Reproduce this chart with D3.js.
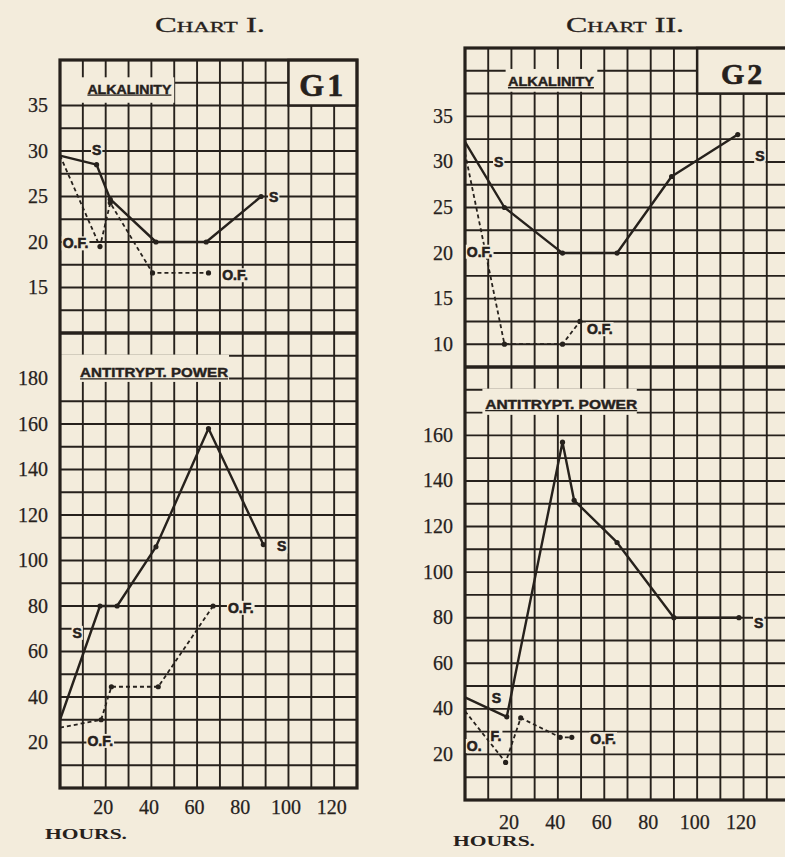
<!DOCTYPE html>
<html><head><meta charset="utf-8">
<script src="https://cdn.jsdelivr.net/npm/d3@7"></script>
<style>
html,body{margin:0;padding:0;background:#f3ecdc;}
svg{display:block;}
</style></head>
<body>
<script>
// ---------- DATA ----------
const hourTicks = [20, 40, 60, 80, 100, 120];

// Chart I (G1)
const c1AlkTicks = [15, 20, 25, 30, 35];
const c1AtTicks = [20, 40, 60, 80, 100, 120, 140, 160, 180];
const c1AlkS_h = [0, 16, 22, 42, 64, 88];
const c1AlkS_v = [29.5, 28.5, 24.7, 20, 20, 25];
const c1AlkOF_h = [0, 17.5, 22, 40.5, 65];
const c1AlkOF_v = [29.5, 19.5, 24.3, 16.6, 16.6];
const c1AtS_h = [0, 17.5, 25, 42, 65, 89];
const c1AtS_v = [30, 80, 80, 106, 158, 107];
const c1AtOF_h = [0, 18, 22.5, 43, 67];
const c1AtOF_v = [26.5, 30, 44.5, 44.5, 80];

// Chart II (G2)
const c2AlkTicks = [10, 15, 20, 25, 30, 35];
const c2AtTicks = [20, 40, 60, 80, 100, 120, 140, 160];
const c2AlkS_h = [0, 17, 42, 65.5, 89, 117.5];
const c2AlkS_v = [32.2, 25, 20, 20, 28.4, 33];
const c2AlkOF_h = [0, 17, 42, 49.5];
const c2AlkOF_v = [31, 10, 10, 12.5];
const c2AtS_h = [0, 18, 42, 47, 65.5, 90, 118];
const c2AtS_v = [45, 36.5, 157, 131.5, 113, 80, 80];
const c2AtOF_h = [0, 17.5, 24, 41, 46];
const c2AtOF_v = [39, 16.5, 36, 27.5, 27.5];

// ---------- DRAW ----------
const W = 785, H = 857;
const INK = "#26211c", BG = "#f3ecdc";
const svg = d3.select("body").append("svg").attr("width", W).attr("height", H);

const zip = (h, v) => h.map((d, i) => [d, v[i]]);

const charts = [
  {
    title: "Chart I.", titleX: 210, titleLen: 110, box: "G1", boxFont: 32,
    xr: [60, 357], xd: [0, 130],
    top: { d: [10, 40], r: [333, 60], step: 2.5, ticks: c1AlkTicks,
      S: zip(c1AlkS_h, c1AlkS_v), OF: zip(c1AlkOF_h, c1AlkOF_v),
      name: "ALKALINITY", nameAt: [12, 36.3], nameLen: 84, bgFrom: [0.3, 38.1], bgTo: [50, 35.3],
      labels: [["S", 14, 29.6], ["S", 91.5, 24.4], ["O.F.", 1.2, 19.3], ["O.F.", 71, 15.8]] },
    bot: { d: [0, 200], r: [788, 333], step: 10, ticks: c1AtTicks,
      S: zip(c1AtS_h, c1AtS_v), OF: zip(c1AtOF_h, c1AtOF_v),
      name: "ANTITRYPT. POWER", nameAt: [8.8, 180.5], nameLen: 148, bgFrom: [0.3, 190.5], bgTo: [74, 178.5],
      labels: [["S", 5.5, 66], ["S", 95, 104], ["O.F.", 73.5, 77], ["O.F.", 12, 18.5]] },
    xLabelY: 814, hoursX: 45, hoursY: 839
  },
  {
    title: "Chart II.", titleX: 625, titleLen: 118, box: "G2", boxFont: 30,
    xr: [465, 790], xd: [0, 140],
    top: { d: [7.5, 42.5], r: [367, 48], step: 2.5, ticks: c2AlkTicks,
      S: zip(c2AlkS_h, c2AlkS_v), OF: zip(c2AlkOF_h, c2AlkOF_v),
      name: "ALKALINITY", nameAt: [18.5, 38.3], nameLen: 86, bgFrom: [17.5, 40.2], bgTo: [57, 37.7],
      labels: [["S", 12.5, 29.4], ["S", 125, 30.1], ["O.F.", 0.8, 19.6], ["O.F.", 52.5, 11.1]] },
    bot: { d: [0, 190], r: [800, 367], step: 10, ticks: c2AtTicks,
      S: zip(c2AtS_h, c2AtS_v), OF: zip(c2AtOF_h, c2AtOF_v),
      name: "ANTITRYPT. POWER", nameAt: [8.7, 171.5], nameLen: 152, bgFrom: [7.5, 180.5], bgTo: [74, 169],
      labels: [["S", 11.5, 42.5], ["S", 124.5, 75.5], ["O.F.", 54, 24.5], ["O.", 0.8, 21.5], ["F.", 11, 26]] },
    xLabelY: 829, hoursX: 453, hoursY: 846
  }
];

charts.forEach(c => {
  const g = svg.append("g");
  const x = d3.scaleLinear().domain(c.xd).range(c.xr);
  const x0 = c.xr[0], x1 = c.xr[1];

  // title
  g.append("text").attr("x", c.titleX).attr("y", 32).attr("text-anchor", "middle")
    .attr("font-family", "'Liberation Serif', serif").attr("font-size", 20)
    .attr("font-variant", "small-caps").attr("fill", INK)
    .attr("stroke", INK).attr("stroke-width", 0.3)
    .attr("textLength", c.titleLen).attr("lengthAdjust", "spacingAndGlyphs")
    .text(c.title);

  [c.top, c.bot].forEach(p => {
    const y = d3.scaleLinear().domain(p.d).range(p.r);
    const hs = d3.range(p.d[0], p.d[1] + 0.001, p.step);
    g.append("g").selectAll("line").data(hs).join("line")
      .attr("x1", x0).attr("x2", x1).attr("y1", d => y(d)).attr("y2", d => y(d))
      .attr("stroke", INK).attr("stroke-width", 1.9);
    const vs = d3.range(c.xd[0], c.xd[1] + 0.001, 10);
    g.append("g").selectAll("line").data(vs).join("line")
      .attr("x1", d => x(d)).attr("x2", d => x(d)).attr("y1", p.r[1]).attr("y2", p.r[0])
      .attr("stroke", INK).attr("stroke-width", 1.9);
    p.y = y;
  });

  // title box G
  const yt = c.top.y;
  const bx0 = x(100), by1 = yt(c.top.d[1] - 5);
  g.append("rect").attr("x", bx0).attr("y", c.top.r[1]).attr("width", x1 - bx0).attr("height", by1 - c.top.r[1])
    .attr("fill", BG).attr("stroke", INK).attr("stroke-width", 2.5);
  g.append("text").attr("x", (bx0 + Math.min(x1, 785)) / 2 + (c.box === "G2" ? 2 : 0)).attr("y", by1 - 10)
    .attr("text-anchor", "middle").attr("font-family", "'Liberation Serif', serif")
    .attr("font-weight", "bold").attr("font-size", c.boxFont).attr("fill", INK)
    .attr("stroke", INK).attr("stroke-width", 0.6)
    .attr("letter-spacing", 3).text(c.box);

  // panel names
  [c.top, c.bot].forEach(p => {
    const y = p.y;
    g.append("rect").attr("x", x(p.bgFrom[0])).attr("y", y(p.bgFrom[1]))
      .attr("width", x(p.bgTo[0]) - x(p.bgFrom[0])).attr("height", y(p.bgTo[1]) - y(p.bgFrom[1]))
      .attr("fill", BG);
    g.append("text").attr("x", x(p.nameAt[0])).attr("y", y(p.nameAt[1]))
      .attr("font-family", "'Liberation Sans Narrow','Liberation Sans',sans-serif").attr("font-weight", "bold")
      .attr("font-size", 12).attr("fill", INK).attr("stroke", INK).attr("stroke-width", 0.4)
      .attr("textLength", p.nameLen).attr("lengthAdjust", "spacingAndGlyphs").text(p.name);
    g.append("line").attr("x1", x(p.nameAt[0])).attr("x2", x(p.nameAt[0]) + p.nameLen)
      .attr("y1", y(p.nameAt[1]) + 1.5).attr("y2", y(p.nameAt[1]) + 1.5)
      .attr("stroke", INK).attr("stroke-width", 1.4);
  });

  // frame + separator
  g.append("rect").attr("x", x0).attr("y", c.top.r[1]).attr("width", x1 - x0).attr("height", c.bot.r[0] - c.top.r[1])
    .attr("fill", "none").attr("stroke", INK).attr("stroke-width", 3.2);
  g.append("line").attr("x1", x0).attr("x2", x1).attr("y1", c.top.r[0]).attr("y2", c.top.r[0])
    .attr("stroke", INK).attr("stroke-width", 3.4);

  // series
  [c.top, c.bot].forEach(p => {
    const y = p.y;
    const line = d3.line().x(d => x(d[0])).y(d => y(d[1]));
    g.append("path").datum(p.OF).attr("d", line).attr("fill", "none")
      .attr("stroke", INK).attr("stroke-width", 1.8).attr("stroke-dasharray", "4,3");
    g.append("path").datum(p.S).attr("d", line).attr("fill", "none")
      .attr("stroke", INK).attr("stroke-width", 2.4).attr("stroke-linejoin", "round");
    g.append("g").selectAll("circle").data(p.S.slice(1).concat(p.OF.slice(1))).join("circle")
      .attr("cx", d => x(d[0])).attr("cy", d => y(d[1])).attr("r", 2.6).attr("fill", INK);
    p.labels.forEach(l => {
      const t = g.append("text").attr("x", x(l[1])).attr("y", y(l[2]))
        .attr("font-family", "'Liberation Sans Narrow','Liberation Sans',sans-serif").attr("font-weight", "bold")
        .attr("font-size", 14).attr("fill", INK).attr("stroke", INK).attr("stroke-width", 0.6).text(l[0]);
      const bb = t.node().getBBox();
      g.insert("rect", () => t.node()).attr("x", bb.x - 1).attr("y", bb.y + 1).attr("width", bb.width + 2).attr("height", bb.height - 2).attr("fill", BG);
    });

    const ax = g.append("g").attr("transform", `translate(${x0},0)`)
      .call(d3.axisLeft(y).tickValues(p.ticks).tickSize(0).tickPadding(12).tickFormat(d3.format("d")));
    ax.select(".domain").remove();
    ax.selectAll("text").attr("font-family", "'Liberation Serif', serif").attr("font-size", 20)
      .attr("fill", INK).attr("stroke", INK).attr("stroke-width", 0.25).attr("dy", "0.3em");
  });

  const xa = g.append("g").attr("transform", `translate(-3,${c.xLabelY - 14})`)
    .call(d3.axisBottom(x).tickValues(hourTicks).tickSize(0).tickPadding(0));
  xa.select(".domain").remove();
  xa.selectAll("text").attr("font-family", "'Liberation Serif', serif").attr("font-size", 20)
    .attr("fill", INK).attr("stroke", INK).attr("stroke-width", 0.25);

  g.append("text").attr("x", c.hoursX).attr("y", c.hoursY)
    .attr("font-family", "'Liberation Serif', serif").attr("font-weight", "bold").attr("font-size", 15)
    .attr("fill", INK).attr("textLength", 82).attr("lengthAdjust", "spacingAndGlyphs").text("HOURS.");
});
</script>
</body></html>
